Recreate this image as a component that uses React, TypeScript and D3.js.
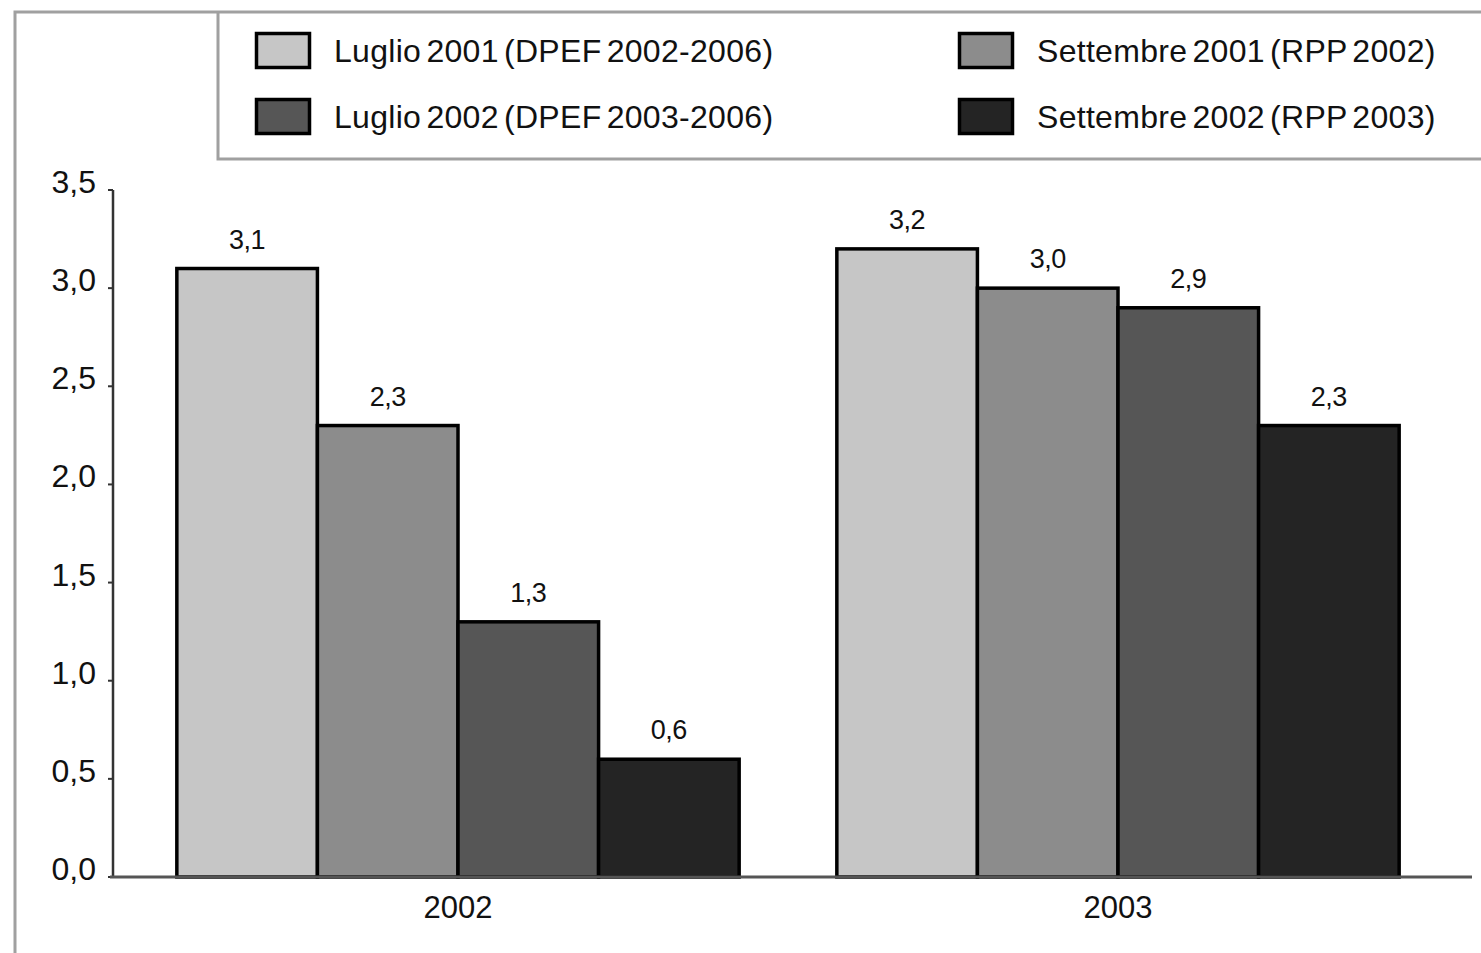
import * as d3 from 'd3'
import { useMemo } from 'react'

const categories = ['2002', '2003']
const seriesNames = [
  'Luglio 2001 (DPEF 2002-2006)',
  'Settembre 2001 (RPP 2002)',
  'Luglio 2002 (DPEF 2003-2006)',
  'Settembre 2002 (RPP 2003)',
]
const luglio2001 = [3.1, 3.2]
const settembre2001 = [2.3, 3.0]
const luglio2002 = [1.3, 2.9]
const settembre2002 = [0.6, 2.3]
const seriesValues = [luglio2001, settembre2001, luglio2002, settembre2002]
const yTicks = [0, 0.5, 1, 1.5, 2, 2.5, 3, 3.5]

const colors = ['#c6c6c6', '#8c8c8c', '#565656', '#242424']
const font = '"Liberation Sans", Arial, Helvetica, sans-serif'
const W = 1481
const H = 953

const it = d3.formatLocale({
  decimal: ',',
  thousands: '.',
  grouping: [3],
  currency: ['', ''],
})
const fmt = it.format('.1f')

export default function App() {
  const { x0, x1, y } = useMemo(() => {
    const x0 = d3
      .scaleBand<string>()
      .domain(categories)
      .range([128, 1448])
      .paddingInner(0.148)
      .paddingOuter(0.074)
    const x1 = d3
      .scaleBand<string>()
      .domain(seriesNames)
      .range([0, x0.bandwidth()])
    const y = d3.scaleLinear().domain([0, 3.5]).range([877, 190])
    return { x0, x1, y }
  }, [])

  const legendCols = [255, 958]
  const legendRows = [32, 98]

  return (
    <svg
      width={W}
      height={H}
      style={{ position: 'absolute', left: 0, top: 0, background: '#fff' }}
      fontFamily={font}
    >
      {/* outer frame */}
      <path d={`M15,${H} V12 H${W}`} fill="none" stroke="#a0a0a0" strokeWidth={3} />
      {/* legend box */}
      <path d={`M218,12 V159 H${W}`} fill="none" stroke="#a0a0a0" strokeWidth={3} />

      {seriesNames.map((s, i) => {
        const cx = legendCols[i % 2]
        const cy = legendRows[Math.floor(i / 2)]
        return (
          <g key={s}>
            <rect
              x={cx + 1.5}
              y={cy + 1.5}
              width={53}
              height={34}
              fill={colors[i]}
              stroke="#000"
              strokeWidth={3.5}
            />
            <text
              x={cx + 79}
              y={cy + 30}
              fontSize={32}
              fill="#111"
              wordSpacing={-4}
              letterSpacing={0.3}
            >
              {s}
            </text>
          </g>
        )
      })}

      {/* y axis */}
      <line x1={113} x2={113} y1={y(3.5)} y2={y(0)} stroke="#333" strokeWidth={2.5} />
      {yTicks.map(t => (
        <g key={t}>
          <line x1={108} x2={113} y1={y(t)} y2={y(t)} stroke="#333" strokeWidth={2} />
          <text
            x={96}
            y={y(t) + 3}
            textAnchor="end"
            fontSize={32}
            fill="#111"
          >
            {fmt(t)}
          </text>
        </g>
      ))}

      {/* bars */}
      {categories.map((c, ci) => (
        <g key={c} transform={`translate(${x0(c)},0)`}>
          {seriesNames.map((s, si) => {
            const v = seriesValues[si][ci]
            const bx = x1(s) as number
            return (
              <g key={s}>
                <rect
                  x={bx}
                  y={y(v)}
                  width={x1.bandwidth()}
                  height={y(0) - y(v)}
                  fill={colors[si]}
                  stroke="#000"
                  strokeWidth={3.5}
                />
                <text
                  x={bx + x1.bandwidth() / 2}
                  y={y(v) - 20}
                  textAnchor="middle"
                  fontSize={27}
                  fill="#111"
                  letterSpacing={-0.5}
                >
                  {fmt(v)}
                </text>
              </g>
            )
          })}
          <text
            x={x0.bandwidth() / 2}
            y={918}
            textAnchor="middle"
            fontSize={31}
            fill="#111"
          >
            {c}
          </text>
        </g>
      ))}

      {/* x axis */}
      <line x1={110} x2={1472} y1={y(0)} y2={y(0)} stroke="#555" strokeWidth={3} />
    </svg>
  )
}
